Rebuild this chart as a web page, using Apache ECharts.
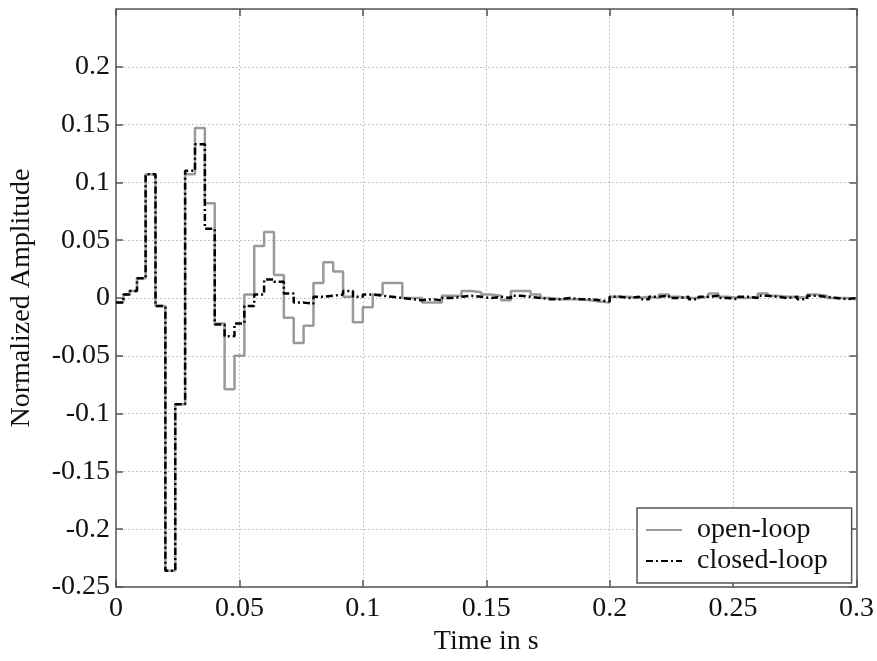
<!DOCTYPE html>
<html>
<head>
<meta charset="utf-8">
<script src="https://cdn.jsdelivr.net/npm/echarts@6/dist/echarts.min.js"></script>
<style>
html,body{margin:0;padding:0;background:#fff;}
#chart{width:877px;height:661px;}
</style>
</head>
<body>
<div id="chart"></div>
<script>
// Step start times (s); the last entry closes the final step
const stepTimes = [0, 0.003, 0.0055, 0.0085, 0.012, 0.016, 0.020, 0.024, 0.028, 0.032, 0.036, 0.040, 0.044, 0.048,
  0.052, 0.056, 0.060, 0.064, 0.068, 0.072, 0.076, 0.080, 0.084, 0.088, 0.092, 0.096, 0.100, 0.104, 0.108,
  0.112, 0.116, 0.120, 0.124, 0.128, 0.132, 0.136, 0.140, 0.144, 0.148, 0.152, 0.156, 0.160, 0.164, 0.168,
  0.172, 0.176, 0.180, 0.184, 0.188, 0.192, 0.196, 0.200, 0.204, 0.208, 0.212, 0.216, 0.220, 0.224, 0.228,
  0.232, 0.236, 0.240, 0.244, 0.248, 0.252, 0.256, 0.260, 0.264, 0.268, 0.272, 0.276, 0.280, 0.284, 0.288,
  0.292, 0.296, 0.300];

const openLoop = [-0.004, 0.003, 0.006, 0.017, 0.107, -0.007, -0.236, -0.092, 0.107, 0.147, 0.082, -0.022, -0.079, -0.050,
  0.003, 0.045, 0.057, 0.020, -0.017, -0.039, -0.024, 0.013, 0.031, 0.023, 0.001, -0.021, -0.008, 0.003, 0.013,
  0.013, 0.000, 0.000, -0.004, -0.004, 0.002, 0.002, 0.006, 0.005, 0.003, 0.002, -0.002, 0.006, 0.006, 0.003,
  0.000, -0.001, -0.001, -0.001, -0.002, -0.003, -0.004, 0.001, 0.001, 0.000, 0.001, 0.000, 0.003, 0.001, 0.000,
  0.000, 0.001, 0.004, 0.001, 0.000, 0.000, 0.001, 0.004, 0.002, 0.001, 0.001, 0.000, 0.003, 0.002, 0.000,
  0.000, -0.001, -0.001];

const closedLoop = [-0.004, 0.003, 0.006, 0.017, 0.107, -0.007, -0.236, -0.092, 0.110, 0.133, 0.060, -0.023, -0.033, -0.022,
  -0.007, 0.003, 0.016, 0.014, 0.004, -0.004, -0.005, 0.001, 0.002, 0.003, 0.006, 0.001, 0.003, 0.002, 0.001,
  0.000, -0.001, -0.002, -0.001, -0.002, 0.000, 0.001, 0.002, 0.001, 0.000, 0.001, 0.000, 0.002, 0.001, 0.000,
  -0.001, -0.001, 0.000, -0.001, -0.001, -0.002, -0.003, 0.001, 0.000, 0.001, -0.001, 0.001, 0.002, 0.000, 0.001,
  -0.001, 0.001, 0.002, 0.000, -0.001, 0.001, 0.000, 0.002, 0.001, 0.000, 0.001, -0.001, 0.002, 0.001, 0.000,
  -0.001, 0.000, 0.000];

const xTicks = [0, 0.05, 0.1, 0.15, 0.2, 0.25, 0.3];
const yTicks = [-0.25, -0.2, -0.15, -0.1, -0.05, 0, 0.05, 0.1, 0.15, 0.2, 0.25];

const seriesNames = ['open-loop', 'closed-loop'];
const xTitle = 'Time in s';
const yTitle = 'Normalized Amplitude';

function pairs(vals) { return stepTimes.map((t, i) => [t, vals[i]]); }

const FONT = '"Liberation Serif", "Times New Roman", serif';
const FS = 28;
const frameColor = '#555';

const chart = echarts.init(document.getElementById('chart'));
const fmt = v => (Math.abs(v) < 1e-9 ? '0' : String(+v.toFixed(3)));
const tickStyle = { show: true, inside: true, length: 7, lineStyle: { color: frameColor, width: 1.5 } };
const lineStyleAxis = { show: true, onZero: false, lineStyle: { color: frameColor, width: 1.5 } };
chart.setOption({
  animation: false,
  backgroundColor: '#fff',
  grid: { left: 114, right: 20, top: 9, bottom: 67, containLabel: false },
  xAxis: [{
    type: 'value', min: 0, max: 0.3, interval: 0.05,
    name: xTitle, nameLocation: 'middle', nameGap: 41,
    nameTextStyle: { fontFamily: FONT, fontSize: FS, color: '#111' },
    axisLine: lineStyleAxis,
    axisTick: tickStyle,
    axisLabel: { fontFamily: FONT, fontSize: FS, color: '#111', margin: 8, formatter: fmt },
    splitLine: { show: true, lineStyle: { color: '#b5b5b5', type: [1.5, 2.5], width: 1 } }
  }, {
    type: 'value', min: 0, max: 0.3, interval: 0.05, position: 'top',
    axisLine: lineStyleAxis,
    axisTick: tickStyle,
    axisLabel: { show: false }, splitLine: { show: false }
  }],
  yAxis: [{
    type: 'value', min: -0.25, max: 0.25, interval: 0.05,
    name: yTitle, nameLocation: 'middle', nameGap: 80, nameRotate: 90,
    nameTextStyle: { fontFamily: FONT, fontSize: FS, color: '#111' },
    axisLine: lineStyleAxis,
    axisTick: tickStyle,
    axisLabel: { fontFamily: FONT, fontSize: FS, color: '#111', margin: 6, formatter: fmt,
      showMaxLabel: false },
    splitLine: { show: true, lineStyle: { color: '#b5b5b5', type: [1.5, 2.5], width: 1 } }
  }, {
    type: 'value', min: -0.25, max: 0.25, interval: 0.05, position: 'right',
    axisLine: lineStyleAxis,
    axisTick: tickStyle,
    axisLabel: { show: false }, splitLine: { show: false }
  }],
  legend: {
    left: 637, top: 508, orient: 'vertical',
    backgroundColor: '#fff', borderColor: frameColor, borderWidth: 1.5, borderRadius: 0,
    padding: [8, 24, 8, 8], itemGap: 3, itemWidth: 36, itemHeight: 14,
    itemStyle: { opacity: 0 },
    textStyle: { fontFamily: FONT, fontSize: FS, color: '#111', padding: [0, 0, 0, 10] },
    data: seriesNames
  },
  series: [{
    name: seriesNames[0], type: 'line', step: 'end', showSymbol: false, symbol: 'none',
    data: pairs(openLoop), z: 2,
    lineStyle: { color: '#9a9a9a', width: 2.5 }, itemStyle: { color: '#9a9a9a' }
  }, {
    name: seriesNames[1], type: 'line', step: 'end', showSymbol: false, symbol: 'none',
    data: pairs(closedLoop), z: 3,
    lineStyle: { color: '#000', width: 2.5, type: [7, 3, 2, 3] }, itemStyle: { color: '#000' }
  }]
});
</script>
</body>
</html>
